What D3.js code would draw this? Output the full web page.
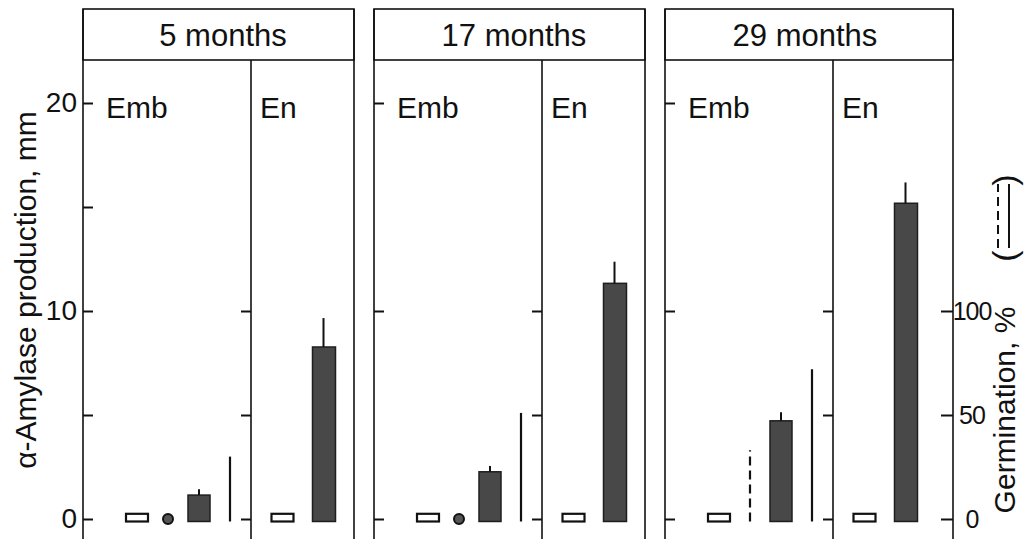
<!DOCTYPE html>
<html>
<head>
<meta charset="utf-8">
<script src="https://cdn.jsdelivr.net/npm/d3@7"></script>
<style>
  body { margin: 0; background: #fff; }
  svg text { font-family: "Liberation Sans", Arial, sans-serif; fill: #111; }
</style>
</head>
<body>
<div id="chart"></div>
<script>
const width = 1025, height = 539;

// storage time of the grain, one panel each
const panels = ["5 months", "17 months", "29 months"];

// alpha-amylase production, mm  (Emb = embryo half, En = endosperm half)
const embOpen = [0.25, 0.25, 0.25];
const embDot = [0, 0, null];
const embDark = [1.15, 2.27, 4.72];
const embDarkErr = [1.43, 2.55, 5.13];
const enOpen = [0.25, 0.25, 0.25];
const enDark = [8.27, 11.33, 15.18];
const enDarkErr = [9.66, 12.37, 16.18];

// germination, %
const germSolid = [30, 51, 72];
const germDashed = [null, null, 33];

const amylaseTicks = [0, 10, 20];
const germTicks = [0, 50, 100];

const svg = d3.select("#chart")
    .append("svg")
    .attr("width", width)
    .attr("height", height);

const y = d3.scaleLinear().domain([0, 20]).range([519, 103]);
const yG = d3.scaleLinear().domain([0, 100]).range([519, 311]);
const xPanel = d3.scalePoint().domain(panels).range([83, 665]);
const xEmb = d3.scalePoint().domain(["open", "dot", "dark", "germ"]).range([54, 147]);
const xEn = d3.scalePoint().domain(["open", "dark"]).range([31.5, 72.5]);

const embW = 168;
const barW = 22;
const base = -0.12;
const ink = "#111";

function styleTicks(g) {
    g.select(".domain").remove();
    g.selectAll("line").attr("stroke", ink).attr("stroke-width", 2);
}

panels.forEach((p, i) => {
    const enW = i === 2 ? 120 : 103;
    const w = embW + enW;
    const g = svg.append("g").attr("transform", `translate(${xPanel(p)},0)`);

    // frame + header
    g.append("rect")
        .attr("x", 0).attr("y", 9)
        .attr("width", w).attr("height", 51)
        .attr("fill", "none").attr("stroke", ink).attr("stroke-width", 1.6);
    g.append("line").attr("x1", 0).attr("x2", 0).attr("y1", 9).attr("y2", 545)
        .attr("stroke", ink).attr("stroke-width", 1.6);
    g.append("line").attr("x1", w).attr("x2", w).attr("y1", 9).attr("y2", 545)
        .attr("stroke", ink).attr("stroke-width", 1.6);
    g.append("line").attr("x1", embW).attr("x2", embW).attr("y1", 60).attr("y2", 545)
        .attr("stroke", ink).attr("stroke-width", 1.6);

    g.append("text")
        .attr("x", 140).attr("y", 46)
        .attr("text-anchor", "middle")
        .attr("font-size", 31)
        .text(p);

    g.append("text").attr("x", 23).attr("y", 118).attr("font-size", 30).text("Emb");
    g.append("text").attr("x", embW + 9).attr("y", 118).attr("font-size", 30).text("En");

    // inner ticks
    g.append("g")
        .call(d3.axisRight(y).tickValues(i === 0 ? [0, 5, 10, 15, 20] : amylaseTicks).tickSize(10).tickFormat(""))
        .call(styleTicks);
    g.append("g")
        .attr("transform", `translate(${embW},0)`)
        .call(d3.axisLeft(y).tickValues([0, 5, 10]).tickSize(10).tickFormat(""))
        .call(styleTicks);

    if (i === 0) {
        const ax = g.append("g")
            .call(d3.axisLeft(y).tickValues(amylaseTicks).tickSize(0).tickPadding(6));
        ax.select(".domain").remove();
        ax.attr("font-size", 28);
    }

    if (i === 2) {
        const ax = g.append("g")
            .attr("transform", `translate(${w},0)`)
            .call(d3.axisLeft(yG).tickValues(germTicks).tickSize(12).tickFormat(""))
            .call(styleTicks);
        ax.selectAll(".tick").append("text")
            .attr("x", 19).attr("dy", "0.35em")
            .attr("text-anchor", "middle")
            .attr("font-size", 25)
            .attr("letter-spacing", -1)
            .text(d => d);
    }

    // embryo half
    const e = g.append("g");
    e.append("rect")
        .attr("x", xEmb("open") - barW / 2).attr("y", y(embOpen[i]))
        .attr("width", barW).attr("height", y(base) - y(embOpen[i]))
        .attr("fill", "#fff").attr("stroke", ink).attr("stroke-width", 2.2);
    if (embDot[i] !== null) {
        e.append("circle")
            .attr("cx", xEmb("dot")).attr("cy", y(embDot[i]))
            .attr("r", 5)
            .attr("fill", "#555").attr("stroke", ink).attr("stroke-width", 2);
    }
    if (germDashed[i] !== null) {
        e.append("line")
            .attr("x1", xEmb("dot")).attr("x2", xEmb("dot"))
            .attr("y1", y(base)).attr("y2", yG(germDashed[i]))
            .attr("stroke", ink).attr("stroke-width", 2.2)
            .attr("stroke-dasharray", "9,5");
    }
    e.append("rect")
        .attr("x", xEmb("dark") - barW / 2).attr("y", y(embDark[i]))
        .attr("width", barW).attr("height", y(base) - y(embDark[i]))
        .attr("fill", "#484848").attr("stroke", "#1e1e1e").attr("stroke-width", 1.5);
    e.append("line")
        .attr("x1", xEmb("dark")).attr("x2", xEmb("dark"))
        .attr("y1", y(embDark[i])).attr("y2", y(embDarkErr[i]))
        .attr("stroke", ink).attr("stroke-width", 2);
    e.append("line")
        .attr("x1", xEmb("germ")).attr("x2", xEmb("germ"))
        .attr("y1", y(base)).attr("y2", yG(germSolid[i]))
        .attr("stroke", ink).attr("stroke-width", 2.2);

    // endosperm half
    const n = g.append("g").attr("transform", `translate(${embW},0)`);
    n.append("rect")
        .attr("x", xEn("open") - barW / 2).attr("y", y(enOpen[i]))
        .attr("width", barW).attr("height", y(base) - y(enOpen[i]))
        .attr("fill", "#fff").attr("stroke", ink).attr("stroke-width", 2.2);
    n.append("rect")
        .attr("x", xEn("dark") - barW / 2).attr("y", y(enDark[i]))
        .attr("width", barW + 1).attr("height", y(base) - y(enDark[i]))
        .attr("fill", "#484848").attr("stroke", "#1e1e1e").attr("stroke-width", 1.5);
    n.append("line")
        .attr("x1", xEn("dark")).attr("x2", xEn("dark"))
        .attr("y1", y(enDark[i])).attr("y2", y(enDarkErr[i]))
        .attr("stroke", ink).attr("stroke-width", 2);
});

// axis titles
svg.append("text")
    .attr("transform", "translate(36,290) rotate(-90)")
    .attr("text-anchor", "middle")
    .attr("font-size", 30)
    .text("α-Amylase production, mm");

svg.append("text")
    .attr("transform", "translate(1015,410) rotate(-90)")
    .attr("text-anchor", "middle")
    .attr("font-size", 30)
    .text("Germination, %");

// legend for germination lines
svg.append("text")
    .attr("transform", "translate(1016,256) rotate(-90)")
    .attr("text-anchor", "middle")
    .attr("font-size", 34)
    .text("(");
svg.append("text")
    .attr("transform", "translate(1016,180) rotate(-90)")
    .attr("text-anchor", "middle")
    .attr("font-size", 34)
    .text(")");
svg.append("line")
    .attr("x1", 998).attr("x2", 998).attr("y1", 248).attr("y2", 184)
    .attr("stroke", ink).attr("stroke-width", 2)
    .attr("stroke-dasharray", "9,5");
svg.append("line")
    .attr("x1", 1009).attr("x2", 1009).attr("y1", 248).attr("y2", 184)
    .attr("stroke", ink).attr("stroke-width", 2);
</script>
</body>
</html>
